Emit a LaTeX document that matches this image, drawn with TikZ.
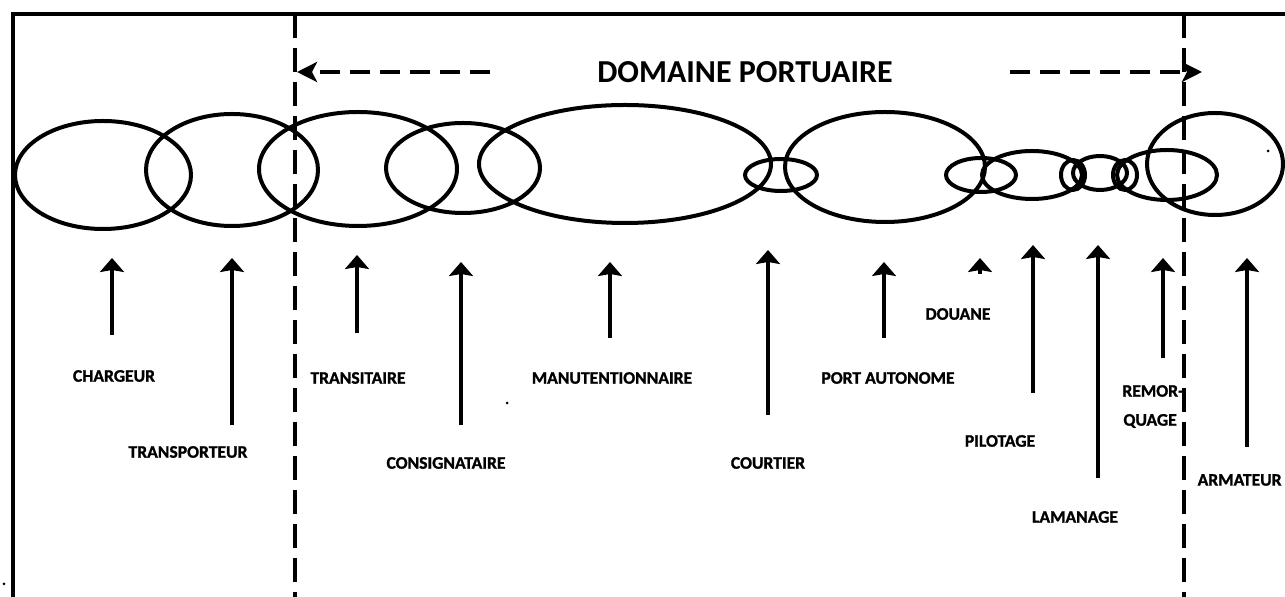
\documentclass[tikz,border=0pt]{standalone}
\usepackage{fontspec}
\setmainfont{Carlito}
\newfontfamily\heavyfont{Carlito}[BoldFeatures={FakeBold=1.2}]
\usetikzlibrary{arrows.meta,shapes.geometric}
\begin{document}
\begin{tikzpicture}[x=0.5pt,y=-0.5pt,
  oval/.style={draw, ellipse, line width=2pt, inner sep=0pt},
  frameline/.style={line width=2pt},
  divider/.style={line width=2pt, dash pattern=on 12pt off 5pt},
  uparrow/.style={line width=2.2pt, -{Stealth[width=12pt,length=7pt,inset=1pt]}},
  domarrow/.style={line width=2pt, dash pattern=on 10pt off 5pt, -{Stealth[width=10pt,length=10pt,inset=2.5pt]}},
  lab/.style={font=\heavyfont\bfseries\fontsize{8.8}{10}\selectfont, inner sep=0pt},
  title/.style={font=\bfseries\fontsize{16}{18}\selectfont, inner sep=0pt},
  speck/.style={fill=black, inner sep=0pt, minimum size=1.5pt, circle}
]
\useasboundingbox (0,0) rectangle (1285,597);

% frame
\coordinate (tl) at (13,14);
\coordinate (tr) at (1285,14);
\coordinate (bl) at (13,597);
\draw[frameline] (bl) -- (tl) -- (tr);

% dividers
\coordinate (d1t) at (295,14);
\coordinate (d1b) at (295,597);
\coordinate (d2t) at (1184,14);
\coordinate (d2b) at (1184,597);
\draw[divider] (d1t) -- (d1b);
\draw[divider] (d2t) -- (d2b);

% title and domain arrows
\node[title] (dom) at (745,72) {DOMAINE PORTUAIRE};
\coordinate (la) at (490,72);
\coordinate (lb) at (297,72);
\coordinate (ra) at (1010,72);
\coordinate (rb) at (1202,72);
\draw[domarrow] (la) -- (lb);
\draw[domarrow] (ra) -- (rb);

% ellipses
\node[oval, minimum width=88pt, minimum height=54pt] (e1) at (103,175) {};
\node[oval, minimum width=86pt, minimum height=56pt] (e2) at (232,170) {};
\node[oval, minimum width=99pt, minimum height=57pt] (e3) at (358,169) {};
\node[oval, minimum width=77pt, minimum height=45pt] (e4) at (463,168) {};
\node[oval, minimum width=146pt, minimum height=59pt] (e5) at (625,164) {};
\node[oval, minimum width=36pt, minimum height=16pt] (e6) at (781,175) {};
\node[oval, minimum width=100pt, minimum height=55pt] (e7) at (885,167) {};
\node[oval, minimum width=35pt, minimum height=17pt] (e8) at (981,175) {};
\node[oval, minimum width=50pt, minimum height=24pt] (e9) at (1032,175) {};
\node[oval, minimum width=12pt, minimum height=15pt] (e10) at (1073,175) {};
\node[oval, minimum width=27pt, minimum height=17pt] (e11) at (1100,173) {};
\node[oval, minimum width=12pt, minimum height=15pt] (e12) at (1125,175) {};
\node[oval, minimum width=50pt, minimum height=25pt] (e13) at (1167,175) {};
\node[oval, minimum width=68pt, minimum height=51pt] (e14) at (1215,164) {};

% arrows
\coordinate (a1b) at (112,335);  \coordinate (a1t) at (112,258);
\coordinate (a2b) at (232,425);  \coordinate (a2t) at (232,258);
\coordinate (a3b) at (357,333);  \coordinate (a3t) at (357,255);
\coordinate (a4b) at (461,425);  \coordinate (a4t) at (461,262);
\coordinate (a5b) at (610,338);  \coordinate (a5t) at (610,262);
\coordinate (a6b) at (768,415);  \coordinate (a6t) at (768,250);
\coordinate (a7b) at (884,338);  \coordinate (a7t) at (884,262);
\coordinate (a8b) at (980,274);  \coordinate (a8t) at (980,258);
\coordinate (a9b) at (1033,393); \coordinate (a9t) at (1033,245);
\coordinate (a10b) at (1098,478); \coordinate (a10t) at (1098,245);
\coordinate (a11b) at (1163,358); \coordinate (a11t) at (1163,258);
\coordinate (a12b) at (1247,447); \coordinate (a12t) at (1247,258);
\foreach \i in {1,...,12} \draw[uparrow] (a\i b) -- (a\i t);

% labels
\node[lab] (chargeur) at (114,376) {CHARGEUR};
\node[lab] (transporteur) at (188,452) {TRANSPORTEUR};
\node[lab] (transitaire) at (358,378) {TRANSITAIRE};
\node[lab] (consignataire) at (446,463) {CONSIGNATAIRE};
\node[lab] (manut) at (612,378) {MANUTENTIONNAIRE};
\node[lab] (courtier) at (768,463) {COURTIER};
\node[lab] (port) at (888,378) {PORT AUTONOME};
\node[lab] (douane) at (958,314) {DOUANE};
\node[lab] (pilotage) at (1000,441) {PILOTAGE};
\node[lab] (lamanage) at (1075,517) {LAMANAGE};
\node[lab, anchor=west] (remor) at (1122,391) {REMOR-};
\node[lab, anchor=west] (quage) at (1123,421) {QUAGE};
\node[lab, anchor=east] (armateur) at (1282,480) {ARMATEUR};

% specks
\node[speck] (s1) at (1268,151) {};
\node[speck] (s2) at (507,403) {};
\node[speck] (s3) at (4,584) {};
\end{tikzpicture}
\end{document}
